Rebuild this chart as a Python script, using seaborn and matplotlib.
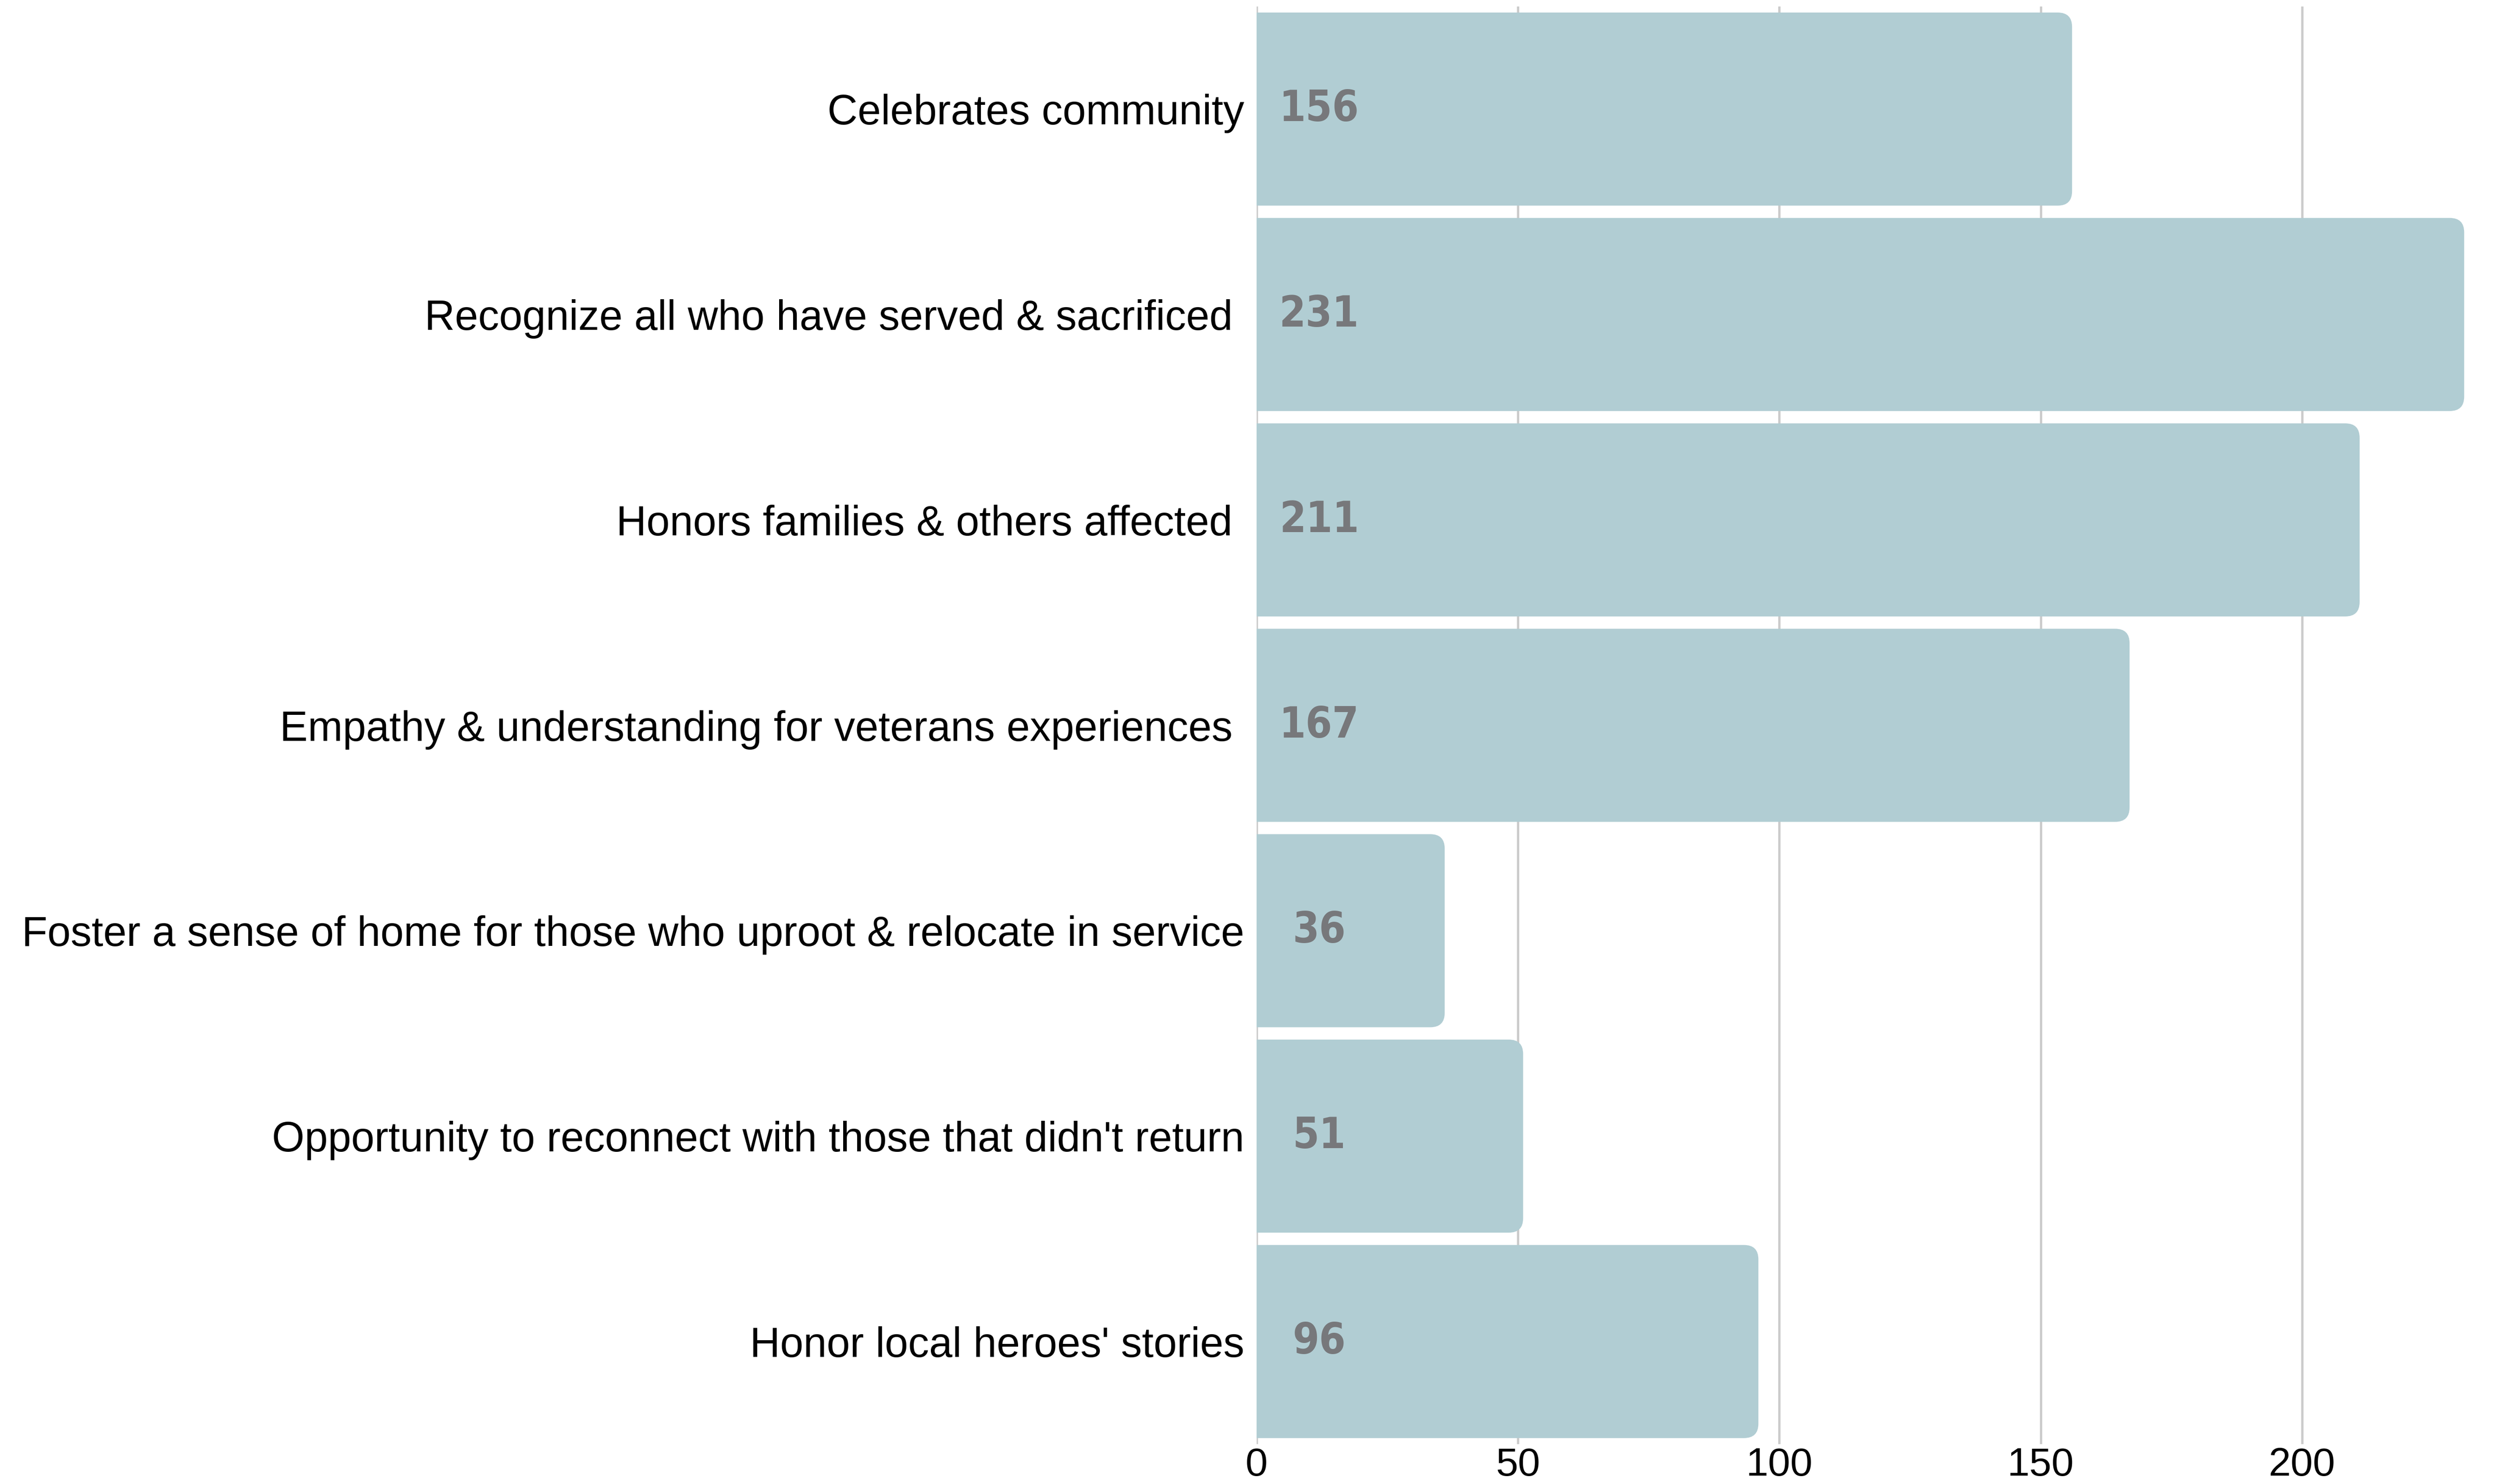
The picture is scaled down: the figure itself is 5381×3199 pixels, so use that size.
import matplotlib
matplotlib.use("Agg")
import matplotlib.pyplot as plt
from matplotlib.patches import FancyBboxPatch
import seaborn as sns
import pandas as pd

categories = [
    "Celebrates community",
    "Recognize all who have served & sacrificed ",
    "Honors families & others affected ",
    "Empathy & understanding for veterans experiences ",
    "Foster a sense of home for those who uproot & relocate in service",
    "Opportunity to reconnect with those that didn't return",
    "Honor local heroes' stories",
]
values = [156, 231, 211, 167, 36, 51, 96]
xticks = [0, 50, 100, 150, 200]

BAR = "#b1cdd3"
LABEL = "#77787b"
GRID = "#cccccc"

sns.set_theme(style="white")
plt.rcParams['font.family'] = ['Liberation Sans', 'DejaVu Sans']

df = pd.DataFrame({"cat": categories, "val": values})

fig = plt.figure(figsize=(53.81, 31.99), dpi=100)
ax = fig.add_axes([0.5032, 0.0268, 0.9879 - 0.5032, 0.9957 - 0.0268])

sns.barplot(data=df, x="val", y="cat", orient="h", color=BAR, saturation=1,
            width=0.94, ax=ax, zorder=2)

# replace bars with rounded versions derived from seaborn's patches
rects = list(ax.patches)
for r in rects:
    x0, y0, w, h = r.get_x(), r.get_y(), r.get_width(), r.get_height()
    p = FancyBboxPatch((x0 - 6, y0), w + 6, h,
                       boxstyle="round,pad=0,rounding_size=2.75",
                       mutation_aspect=0.0255, fc=BAR, ec="none", zorder=2)
    ax.add_patch(p)
    r.remove()

ax.set_xlim(0, 231.5)
ax.set_ylim(len(categories) - 0.5, -0.5)
ax.set_xticks(xticks)
ax.set_xticklabels([str(t) for t in xticks])
ax.xaxis.grid(True, color=GRID, linewidth=3.6, zorder=0)
ax.set_axisbelow(True)
ax.yaxis.grid(False)
for s in ax.spines.values():
    s.set_visible(False)
ax.set_xlabel("")
ax.set_ylabel("")
ax.tick_params(axis="x", length=0, labelsize=62, pad=4, labelcolor="black")
ax.tick_params(axis="y", length=0, labelsize=65, pad=19, labelcolor="black")

for i, v in enumerate(values):
    ax.text(12, i, str(v), ha="center", va="center", fontsize=66,
            fontweight="bold", fontstretch="condensed", color=LABEL,
            family=['DejaVu Sans'], zorder=3)

fig.savefig("out.png", dpi=100)
